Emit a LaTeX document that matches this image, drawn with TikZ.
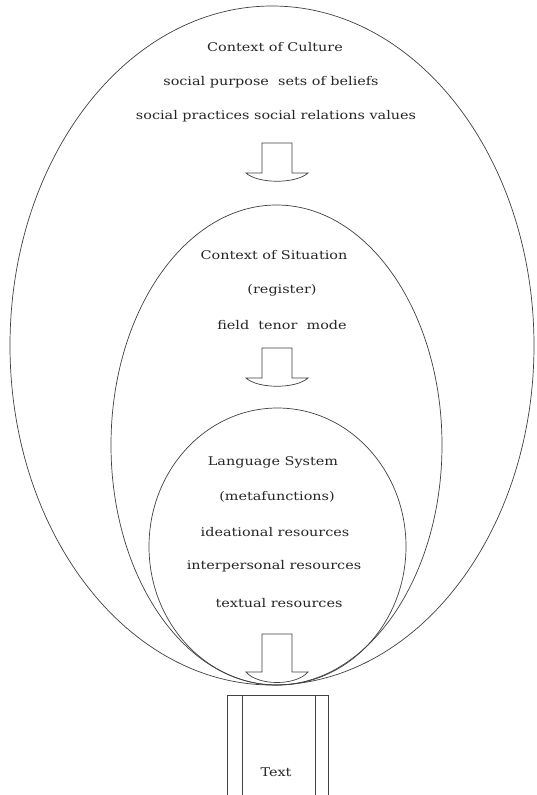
\documentclass[tikz,border=0pt]{standalone}
\usepackage{fontspec}
\setmainfont{DejaVu Serif}
\newfontfamily\lblfont[FakeStretch=1.2]{DejaVu Serif}
\usetikzlibrary{shapes.geometric}
\tikzset{
  line/.style={draw=black!75, line width=0.7pt},
  ring/.style={line, ellipse, inner sep=0pt, fill=none},
  lbl/.style={font=\lblfont\fontsize{12}{14}\selectfont, text=black!85, inner sep=0pt, anchor=center},
}
\newcommand{\downarrowshape}[3]{%
  \draw[line, line join=miter] (262,#2) -- (262,#1) -- (292,#1) -- (292,#2) -- (308,#2)
    .. controls (296,#3) and (258,#3) .. (246,#2) -- cycle;}
\begin{document}
\begin{tikzpicture}[x=1pt,y=-1pt]
\useasboundingbox (0,0) rectangle (536,795);
\fill[white] (0,0) rectangle (536,795);
% ellipses
\node[ring, minimum width=524pt, minimum height=679pt] (culture) at (272,345.5) {};
\node[ring, minimum width=331pt, minimum height=480pt] (situation) at (276.5,445) {};
\node[ring, minimum width=257pt, minimum height=277pt] (language) at (277.5,546.5) {};
% texts
\node[lbl] (c1) at (275,47) {Context of Culture};
\node[lbl] (c2) at (271,82) {social purpose\ \ sets of beliefs};
\node[lbl] (c3) at (276,116) {social practices social relations values};
\node[lbl] (s1) at (274,255) {Context of Situation};
\node[lbl] (s2) at (282,290) {(register)};
\node[lbl] (s3) at (282,325) {field\ \ tenor\ \ mode};
\node[lbl] (l1) at (273,462) {Language System};
\node[lbl] (l2) at (277,497) {(metafunctions)};
\node[lbl] (l3) at (275,532) {ideational resources};
\node[lbl] (l4) at (274,566) {interpersonal resources};
\node[lbl] (l5) at (279,603) {textual resources};
% arrows
\downarrowshape{143}{173}{184}
\downarrowshape{348}{378}{389}
\downarrowshape{634}{672}{686}
% text box
\node[line, draw, minimum width=101pt, minimum height=100pt, inner sep=0pt, anchor=north west] (textbox) at (227,695) {};
\draw[line] (242,695) -- (242,795);
\draw[line] (315,695) -- (315,795);
\node[lbl] (t) at (276,772) {Text};
\end{tikzpicture}
\end{document}
